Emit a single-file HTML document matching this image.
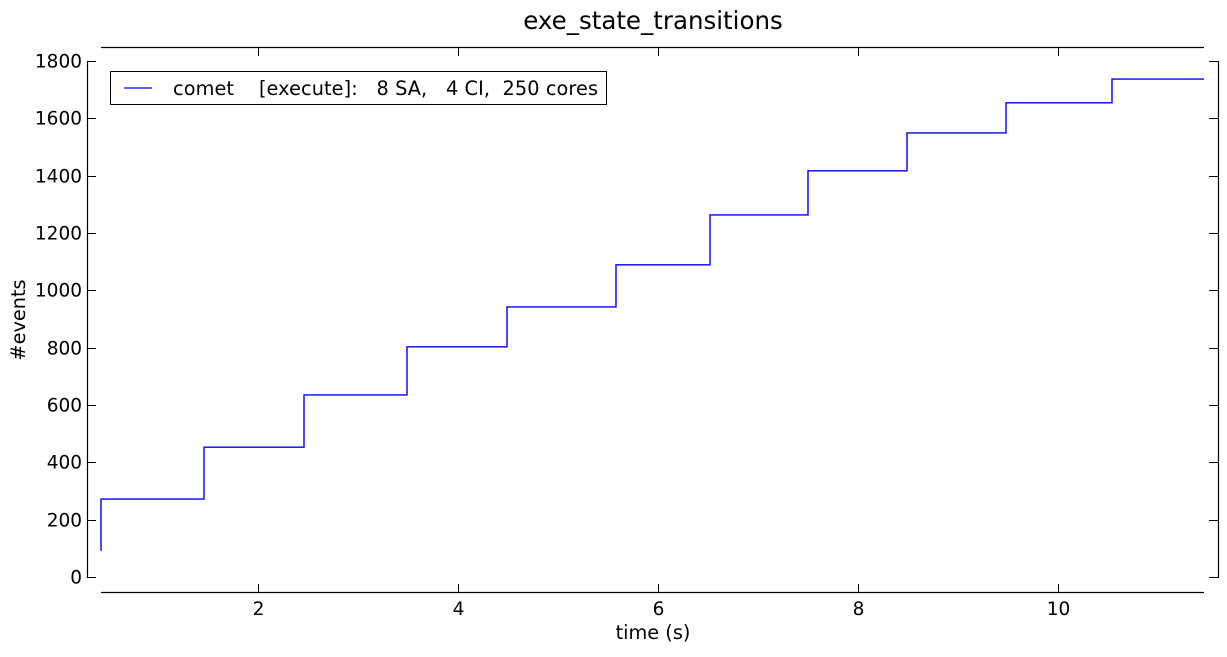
<!DOCTYPE html>
<html><head><meta charset="utf-8"><style>
body{margin:0;background:#fff;width:1227px;height:652px;overflow:hidden}
svg text{font-family:"DejaVu Sans","Liberation Sans",sans-serif;fill:#000}
</style></head><body>
<svg id="chart" width="1227" height="652" viewBox="0 0 1227 652" xmlns="http://www.w3.org/2000/svg">
<text x="653" y="29" font-size="24.5" text-anchor="middle">exe_state_transitions</text>
<g id="axes"></g>
<g id="plot"></g>
<g>
<rect x="110.5" y="71.5" width="496" height="33" fill="#fff" stroke="#000" stroke-width="1"/>
<line x1="124" y1="88" x2="152" y2="88" stroke="#0000ff" stroke-width="1.2"/>
<text x="173" y="95" textLength="425" font-size="19.3" xml:space="preserve">comet    [execute]:   8 SA,   4 CI,  250 cores</text>
</g>
<text x="653" y="639" font-size="19.3" text-anchor="middle">time (s)</text>
<text transform="translate(25,320) rotate(-90)" font-size="19.3" text-anchor="middle">#events</text>
</svg>
<script>
const stepX = [0.43, 1.46, 2.46, 3.49, 4.49, 5.58, 6.52, 7.50, 8.49, 9.48, 10.54];
const stepY = [272, 453, 635, 803, 942, 1089, 1263, 1417, 1549, 1654, 1737];
const startY = 91;
const xEnd = 11.46;
const xTicks = [2, 4, 6, 8, 10];
const yTicks = [0, 200, 400, 600, 800, 1000, 1200, 1400, 1600, 1800];

const X0=101, X1=1204, xMin=0.43, xMax=11.46;
const Y0=577, Y1=61, yMin=0, yMax=1800;
const sx = v => X0 + (v - xMin) / (xMax - xMin) * (X1 - X0);
const sy = v => Y0 - (v - yMin) / (yMax - yMin) * (Y0 - Y1);
const NS = "http://www.w3.org/2000/svg";
function mk(tag, attrs, parent){const e=document.createElementNS(NS,tag);for(const k in attrs)e.setAttribute(k,attrs[k]);parent.appendChild(e);return e;}
const ax = document.getElementById('axes');
let s;
s=mk('line',{x1:X0,y1:47.5,x2:X1,y2:47.5,stroke:'#000','stroke-width':1.2},ax);


s=mk('line',{x1:X0,y1:592.5,x2:X1,y2:592.5,stroke:'#000','stroke-width':1.2},ax);


s=mk('line',{x1:87.5,y1:Y1,x2:87.5,y2:Y0+1,stroke:'#000','stroke-width':1.2},ax);


s=mk('line',{x1:1218.5,y1:Y1,x2:1218.5,y2:Y0+1,stroke:'#000','stroke-width':1.2},ax);


xTicks.forEach(t=>{
  const x=Math.round(sx(t))+0.5;
  mk('line',{x1:x,y1:592,x2:x,y2:584,stroke:'#000'},ax);
  mk('line',{x1:x,y1:47,x2:x,y2:56,stroke:'#000'},ax);
  const tx=mk('text',{x:x,y:615,'font-size':18.5,'text-anchor':'middle'},ax);
  tx.textContent=t;
  
  
});
yTicks.forEach(t=>{
  const y=Math.round(sy(t))+0.5;
  mk('line',{x1:87,x2:96,y1:y,y2:y,stroke:'#000'},ax);
  mk('line',{x1:1218,x2:1209,y1:y,y2:y,stroke:'#000'},ax);
  const tx=mk('text',{x:82,y:y+6,'font-size':18.5,'text-anchor':'end'},ax);
  tx.textContent=t;
  
  
});
let d=`M${sx(stepX[0])},${sy(startY)}`;
for(let i=0;i<stepX.length;i++){
  d+=` L${sx(stepX[i])},${sy(stepY[i])}`;
  const nx = i+1<stepX.length ? stepX[i+1] : xEnd;
  d+=` L${sx(nx)},${sy(stepY[i])}`;
}
const p=mk('path',{d:d,fill:'none',stroke:'#0000ff','stroke-width':1.4},document.getElementById('plot'));


</script>
</body></html>
